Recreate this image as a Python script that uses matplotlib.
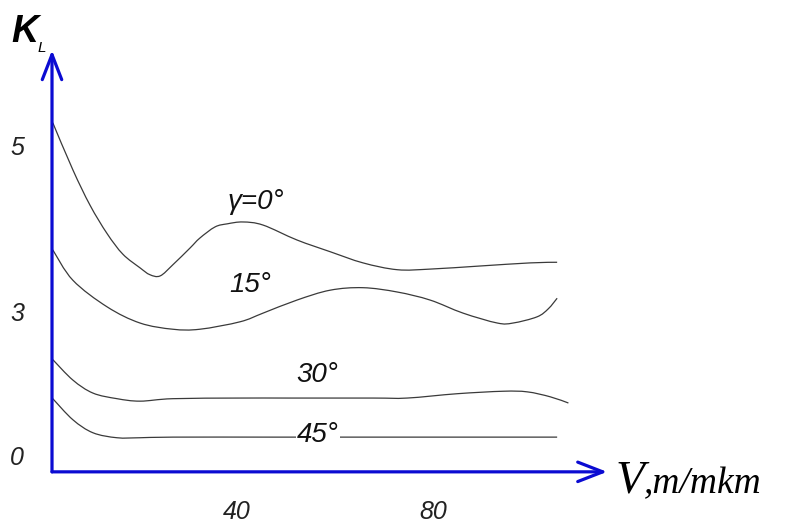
import matplotlib
matplotlib.use("Agg")
import matplotlib.pyplot as plt
from matplotlib.path import Path
from matplotlib.patches import PathPatch
import numpy as np

# K_L versus V for four rake angles
v_0 = [2.4, 6.5, 10.0, 13.5, 16.7, 20.2, 22.2, 24.3, 26.9, 30.4, 32.4, 35.5, 38.0, 41.2,
       45.3, 52.2, 59.0, 65.7, 72.7, 79.4, 89.6, 99.8, 105.3]
k_0 = [5.60, 4.84, 4.27, 3.81, 3.48, 3.26, 3.15, 3.13, 3.31, 3.58, 3.74, 3.92, 3.97, 4.00,
       3.95, 3.71, 3.52, 3.34, 3.23, 3.24, 3.29, 3.34, 3.35]

v_15 = [2.4, 6.5, 13.5, 20.2, 26.9, 32.4, 40.6, 45.3, 52.2, 59.0, 65.7, 72.7, 79.4, 86.1,
        93.1, 96.3, 101.2, 103.5, 105.3]
k_15 = [3.55, 3.06, 2.63, 2.37, 2.27, 2.27, 2.39, 2.53, 2.74, 2.90, 2.94, 2.87, 2.74, 2.53,
        2.37, 2.37, 2.47, 2.60, 2.77]

v_30 = [2.4, 6.5, 10.6, 15.5, 20.2, 26.9, 40.6, 50.8, 67.8, 74.7, 84.9, 94.3, 99.2, 103.9, 107.6]
k_30 = [1.78, 1.45, 1.24, 1.15, 1.11, 1.15, 1.16, 1.16, 1.16, 1.16, 1.23, 1.27, 1.26, 1.18, 1.08]

v_45 = [2.4, 6.5, 10.6, 15.5, 20.2, 26.9, 47.3, 61.4, 105.3]
k_45 = [1.15, 0.81, 0.60, 0.52, 0.52, 0.53, 0.53, 0.53, 0.53]

curve_labels = ["\u03b3=0\u00b0", "15\u00b0", "30\u00b0", "45\u00b0"]
label_pos = [(43.9, 4.32), (42.7, 2.98), (56.3, 1.53), (56.5, 0.56)]

x_ticks = [40, 80]
y_ticks = ["0", "3", "5"]
y_tick_pos = [0.19, 2.52, 5.19]

sans = ["Liberation Sans", "DejaVu Sans"]


def smooth_path(x, y):
    # Catmull-Rom through the points, written as cubic Bezier segments
    p = np.column_stack([x, y]).astype(float)
    pts = [p[0]]
    codes = [Path.MOVETO]
    for i in range(len(p) - 1):
        p0 = p[i - 1] if i > 0 else p[i]
        p3 = p[i + 2] if i + 2 < len(p) else p[i + 1]
        c1 = p[i] + (p[i + 1] - p0) / 6.0
        c2 = p[i + 1] - (p3 - p[i]) / 6.0
        pts += [c1, c2, p[i + 1]]
        codes += [Path.CURVE4] * 3
    return Path(pts, codes)


fig = plt.figure(figsize=(7.88, 5.30), dpi=100)
ax = fig.add_axes([0, 0, 1, 1])
ax.set_xlim(-8.37, 152.4)
ax.set_ylim(-0.968, 7.58)
ax.axis("off")

for v, k in [(v_0, k_0), (v_15, k_15), (v_30, k_30), (v_45, k_45)]:
    ax.add_patch(PathPatch(smooth_path(v, k), facecolor="none",
                           edgecolor="#3a3a3a", lw=0.9))

for txt, (x, y) in zip(curve_labels, label_pos):
    bg = dict(facecolor="white", edgecolor="none", pad=1) if txt == "45\u00b0" else None
    ax.text(x, y, txt, fontsize=20, style="italic", family=sans,
            ha="center", va="center", color="#111111", bbox=bg)

# axes with arrowheads
blue = "#0b0bd2"
arrow = dict(arrowstyle="->,head_length=0.9,head_width=0.35", color=blue, lw=2.3,
             mutation_scale=20, shrinkA=0, shrinkB=0)
ax.annotate("", xy=(2.24, 6.77), xytext=(2.24, -0.03), arrowprops=arrow)
ax.annotate("", xy=(115.5, -0.03), xytext=(2.24, -0.03), arrowprops=arrow)

for lab, y in zip(y_ticks, y_tick_pos):
    ax.text(-4.9, y, lab, fontsize=18, style="italic", family=sans,
            ha="center", va="center", color="#222222")
for t in x_ticks:
    ax.text(t, -0.68, str(t), fontsize=18, style="italic", family=sans,
            ha="center", va="center", color="#222222")

# axis titles
ax.text(-3.3, 7.06, "K", fontsize=27, style="italic", weight="bold", family=sans,
        ha="center", va="center")
ax.text(0.2, 6.80, "L", fontsize=11, style="italic", family=sans,
        ha="center", va="center")
ax.text(117.3, -0.37, "V", fontsize=34, style="italic", family="Liberation Serif",
        ha="left", va="baseline")
ax.text(123.0, -0.37, ",m/mkm", fontsize=27, style="italic", family="Liberation Serif",
        ha="left", va="baseline")

fig.savefig("out.png", dpi=100)
